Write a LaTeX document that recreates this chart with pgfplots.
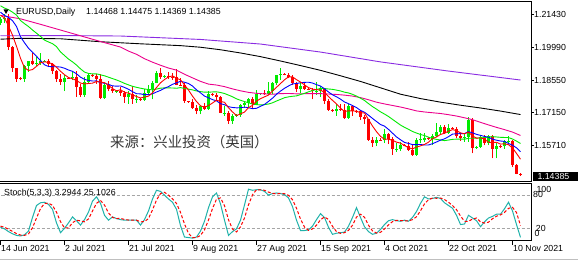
\documentclass[border=0pt]{standalone}
\usepackage{fontspec}
\setmainfont{Liberation Sans}
\newfontfamily\cjk{Noto Sans CJK SC}
\usepackage{pgfplots}
\usepackage{pgfplotstable}
\pgfplotsset{compat=1.18}

\definecolor{mtlime}{RGB}{0,235,0}
\definecolor{mtteal}{RGB}{32,178,170}
\definecolor{mtviolet}{RGB}{138,43,226}
\definecolor{mtgray}{RGB}{165,165,165}

% daily candles, bar index 0 = 14 Jun 2021 (broker has Sunday bars)
\pgfplotstableread{
i o h l c
0 1.2104 1.2132 1.2093 1.2120
1 1.2120 1.2144 1.2103 1.2126
6 1.1860 1.1922 1.1848 1.1918
7 1.1918 1.1940 1.1890 1.1940
9 1.1925 1.1955 1.1917 1.1930
10 1.1930 1.1975 1.1922 1.1937
11 1.1938 1.1942 1.1935 1.1940
16 1.1848 1.1876 1.1807 1.1865
18 1.1864 1.1895 1.1855 1.1867
21 1.1790 1.1868 1.1780 1.1845
22 1.1845 1.1880 1.1838 1.1875
26 1.1775 1.1838 1.1772 1.1835
29 1.1805 1.1810 1.1800 1.1808
32 1.1780 1.1806 1.1752 1.1795
34 1.1770 1.1790 1.1755 1.1772
36 1.1768 1.1815 1.1765 1.1800
37 1.1800 1.1835 1.1795 1.1815
38 1.1815 1.1850 1.1770 1.1843
39 1.1843 1.1895 1.1840 1.1886
41 1.1870 1.1875 1.1865 1.1872
50 1.1718 1.1745 1.1705 1.1740
52 1.1730 1.1805 1.1725 1.1795
56 1.1711 1.1740 1.1700 1.1713
58 1.1675 1.1705 1.1664 1.1700
59 1.1700 1.1705 1.1695 1.1702
60 1.1702 1.1752 1.1695 1.1745
61 1.1745 1.1765 1.1735 1.1755
62 1.1755 1.1775 1.1735 1.1770
64 1.1750 1.1810 1.1745 1.1795
65 1.1795 1.1800 1.1790 1.1798
67 1.1795 1.1845 1.1790 1.1808
68 1.1808 1.1845 1.1795 1.1840
69 1.1840 1.1875 1.1835 1.1875
70 1.1875 1.1909 1.1857 1.1880
75 1.1815 1.1845 1.1800 1.1828
79 1.1804 1.1845 1.1790 1.1806
80 1.1805 1.1830 1.1780 1.1818
84 1.1720 1.1750 1.1700 1.1728
87 1.1690 1.1750 1.1685 1.1740
94 1.1580 1.1605 1.1565 1.1595
96 1.1592 1.1640 1.1580 1.1620
99 1.1554 1.1580 1.1540 1.1556
100 1.1555 1.1585 1.1545 1.1570
104 1.1530 1.1600 1.1525 1.1595
105 1.1594 1.1625 1.1580 1.1596
106 1.1595 1.1625 1.1585 1.1600
108 1.1598 1.1620 1.1571 1.1610
109 1.1610 1.1668 1.1605 1.1630
110 1.1630 1.1660 1.1620 1.1650
112 1.1625 1.1665 1.1620 1.1645
116 1.1600 1.1620 1.1585 1.1605
117 1.1605 1.1692 1.1585 1.1680
119 1.1560 1.1565 1.1555 1.1562
120 1.1562 1.1615 1.1560 1.1605
122 1.1580 1.1615 1.1570 1.1610
124 1.1555 1.1580 1.1513 1.1567
126 1.1565 1.1595 1.1555 1.1587
127 1.1587 1.1610 1.1575 1.1590
}\upbars

\pgfplotstableread{
i o h l c
2 1.2126 1.2141 1.1985 1.1998
3 1.1998 1.2003 1.1892 1.1906
4 1.1906 1.1908 1.1847 1.1860
5 1.1862 1.1866 1.1855 1.1860
8 1.1940 1.1975 1.1921 1.1925
12 1.1940 1.1945 1.1910 1.1925
13 1.1925 1.1928 1.1881 1.1895
14 1.1895 1.1900 1.1848 1.1858
15 1.1858 1.1880 1.1835 1.1848
17 1.1865 1.1868 1.1860 1.1864
19 1.1867 1.1895 1.1782 1.1823
20 1.1823 1.1838 1.1782 1.1790
23 1.1875 1.1880 1.1870 1.1873
24 1.1873 1.1880 1.1838 1.1860
25 1.1860 1.1880 1.1772 1.1775
27 1.1835 1.1849 1.1805 1.1815
28 1.1815 1.1829 1.1800 1.1805
30 1.1808 1.1823 1.1786 1.1800
31 1.1800 1.1805 1.1755 1.1780
33 1.1795 1.1830 1.1752 1.1770
35 1.1770 1.1775 1.1765 1.1768
40 1.1886 1.1909 1.1860 1.1870
42 1.1872 1.1892 1.1860 1.1870
43 1.1870 1.1885 1.1855 1.1868
44 1.1868 1.1901 1.1832 1.1835
45 1.1835 1.1865 1.1830 1.1833
46 1.1833 1.1840 1.1754 1.1762
47 1.1762 1.1765 1.1755 1.1758
48 1.1758 1.1770 1.1730 1.1735
49 1.1735 1.1745 1.1705 1.1718
51 1.1740 1.1755 1.1725 1.1730
53 1.1795 1.1798 1.1785 1.1790
54 1.1790 1.1800 1.1765 1.1780
55 1.1780 1.1785 1.1710 1.1712
57 1.1712 1.1720 1.1665 1.1675
63 1.1770 1.1780 1.1735 1.1750
66 1.1798 1.1810 1.1790 1.1795
71 1.1880 1.1885 1.1875 1.1878
72 1.1878 1.1885 1.1862 1.1870
73 1.1870 1.1875 1.1833 1.1840
74 1.1840 1.1845 1.1802 1.1815
76 1.1828 1.1845 1.1811 1.1815
77 1.1815 1.1820 1.1810 1.1812
78 1.1812 1.1818 1.1770 1.1805
81 1.1818 1.1822 1.1750 1.1763
82 1.1763 1.1772 1.1720 1.1725
83 1.1725 1.1730 1.1715 1.1720
85 1.1728 1.1750 1.1720 1.1725
86 1.1725 1.1750 1.1685 1.1690
88 1.1740 1.1745 1.1700 1.1720
89 1.1720 1.1725 1.1712 1.1718
90 1.1718 1.1720 1.1680 1.1695
91 1.1695 1.1703 1.1665 1.1683
92 1.1683 1.1685 1.1590 1.1595
93 1.1595 1.1605 1.1563 1.1580
95 1.1595 1.1600 1.1590 1.1592
97 1.1620 1.1625 1.1575 1.1598
98 1.1598 1.1605 1.1529 1.1555
101 1.1570 1.1575 1.1565 1.1568
102 1.1568 1.1585 1.1545 1.1550
103 1.1550 1.1570 1.1524 1.1530
107 1.1600 1.1605 1.1595 1.1598
111 1.1650 1.1660 1.1620 1.1625
113 1.1645 1.1650 1.1640 1.1642
114 1.1642 1.1650 1.1600 1.1610
115 1.1610 1.1625 1.1590 1.1600
118 1.1680 1.1690 1.1535 1.1560
121 1.1605 1.1615 1.1570 1.1580
123 1.1610 1.1615 1.1513 1.1555
125 1.1567 1.1572 1.1560 1.1565
128 1.1590 1.1595 1.1475 1.1485
129 1.1485 1.1490 1.1443 1.1447
130 1.14468 1.14475 1.14369 1.14385
}\downbars

% moving averages 5, 10, 20
\pgfplotstableread{
i ma5 ma10 ma20
0 1.21372 1.21508 1.21788
1 1.21264 1.2137 1.2169
2 1.2091 1.21279 1.2162
3 1.20508 1.21139 1.2151
4 1.2002 1.20887 1.21384
5 1.1950 1.20436 1.21147
6 1.19084 1.20174 1.21009
7 1.18968 1.19939 1.20883
8 1.19006 1.19757 1.20733
9 1.19146 1.19583 1.20593
10 1.1930 1.194 1.20454
11 1.19344 1.19214 1.20292
12 1.19314 1.19141 1.2021
13 1.19254 1.1913 1.20135
14 1.1911 1.19128 1.20008
15 1.18932 1.19116 1.19776
16 1.18782 1.19063 1.19619
17 1.1866 1.18987 1.19463
18 1.18604 1.18929 1.19343
19 1.18534 1.18822 1.19203
20 1.18418 1.18675 1.19038
21 1.18378 1.1858 1.18897
22 1.1840 1.1853 1.18836
23 1.18412 1.18508 1.18819
24 1.18486 1.1851 1.18819
25 1.18456 1.18437 1.18777
26 1.18436 1.18407 1.18735
27 1.18316 1.18358 1.18673
28 1.1818 1.18296 1.18613
29 1.18076 1.18281 1.18552
30 1.18126 1.18291 1.18483
31 1.18016 1.18226 1.18403
32 1.17976 1.18146 1.18338
33 1.17906 1.18043 1.18276
34 1.1783 1.17953 1.18232
35 1.17766 1.17946 1.18192
36 1.17806 1.17911 1.18159
37 1.17846 1.17911 1.18135
38 1.17992 1.17949 1.18123
39 1.18224 1.18027 1.18154
40 1.18428 1.18097 1.18194
41 1.18572 1.18189 1.18208
42 1.18682 1.18264 1.18205
43 1.18732 1.18362 1.18203
44 1.1863 1.18427 1.1819
45 1.18556 1.18492 1.18219
46 1.18336 1.18454 1.18183
47 1.18112 1.18397 1.18154
48 1.17846 1.18289 1.18119
49 1.17612 1.18121 1.18074
50 1.17426 1.17991 1.18044
51 1.17362 1.17849 1.18019
52 1.17436 1.17774 1.18019
53 1.17546 1.17696 1.18029
54 1.1767 1.17641 1.18034
55 1.17614 1.1752 1.18006
56 1.17578 1.1747 1.17962
57 1.17338 1.17387 1.17892
58 1.17158 1.17352 1.1782
59 1.17002 1.17336 1.17729
60 1.17068 1.17341 1.17666
61 1.17154 1.17366 1.17608
62 1.17344 1.17341 1.17558
63 1.17444 1.17301 1.17499
64 1.1763 1.17316 1.17479
65 1.17736 1.17402 1.17461
66 1.17816 1.17485 1.17478
67 1.17892 1.17618 1.17503
68 1.18072 1.17758 1.17555
69 1.18232 1.17931 1.17634
70 1.18396 1.18066 1.17704
71 1.18562 1.18189 1.17778
72 1.18686 1.18289 1.17815
73 1.18686 1.18379 1.1784
74 1.18566 1.18399 1.17858
75 1.18462 1.18429 1.17916
76 1.18336 1.18449 1.17967
77 1.1822 1.18453 1.18036
78 1.1815 1.18418 1.18088
79 1.1813 1.18348 1.1814
80 1.1811 1.18286 1.18176
81 1.18006 1.18171 1.1818
82 1.17832 1.18026 1.18158
83 1.17662 1.17906 1.18143
84 1.17508 1.17819 1.18109
85 1.17322 1.17716 1.18073
86 1.17176 1.17591 1.1802
87 1.17206 1.17519 1.17986
88 1.17206 1.17434 1.17926
89 1.17186 1.17347 1.17848
90 1.17126 1.17224 1.17755
91 1.17112 1.17144 1.17658
92 1.16822 1.17014 1.1752
93 1.16542 1.16874 1.1739
94 1.16296 1.16741 1.1728
95 1.1609 1.16608 1.17162
96 1.15964 1.16538 1.17065
97 1.1597 1.16396 1.16958
98 1.1592 1.16231 1.16833
99 1.1584 1.16068 1.16708
100 1.15796 1.15943 1.16584
101 1.15692 1.15828 1.16486
102 1.15596 1.15783 1.16399
103 1.15546 1.15733 1.16304
104 1.15626 1.15733 1.16237
105 1.15676 1.15736 1.16172
106 1.1574 1.15716 1.16127
107 1.15836 1.15716 1.16056
108 1.15996 1.15771 1.16001
109 1.16066 1.15846 1.15957
110 1.16176 1.15926 1.15935
111 1.16226 1.15983 1.15906
112 1.1632 1.16078 1.15931
113 1.16384 1.1619 1.15962
114 1.16344 1.16205 1.15969
115 1.16244 1.1621 1.15973
116 1.16204 1.16215 1.15966
117 1.16274 1.16297 1.16007
118 1.1611 1.16247 1.16009
119 1.16014 1.16179 1.16013
120 1.16024 1.16134 1.1603
121 1.15974 1.16089 1.16036
122 1.15834 1.16054 1.16066
123 1.15824 1.15967 1.16079
124 1.15834 1.15924 1.16065
125 1.15754 1.15889 1.1605
126 1.15768 1.15871 1.16043
127 1.15728 1.15781 1.16039
128 1.15588 1.15706 1.15977
129 1.15348 1.15591 1.15885
130 1.15095 1.15425 1.15779
}\matab

% slower averages (50, 100, 200)
\pgfplotstableread{
i p
0 1.2137
5 1.2122
10 1.2098
15 1.2073
20 1.2048
25 1.2023
30 1.19988
32 1.19812
34 1.19672
36 1.1948
38 1.19328
40 1.19194
42 1.19072
44 1.18981
46 1.18802
48 1.18644
50 1.18491
52 1.18371
54 1.18332
56 1.18261
58 1.18163
60 1.18079
62 1.18011
64 1.17969
66 1.17945
68 1.17929
70 1.17957
72 1.17963
74 1.17947
76 1.17954
78 1.17953
80 1.17956
82 1.17939
84 1.1792
86 1.1789
88 1.1785
90 1.17782
92 1.17689
94 1.17583
96 1.17507
98 1.17439
100 1.17372
102 1.17291
104 1.17202
106 1.17156
108 1.17122
110 1.17089
112 1.17038
114 1.16979
116 1.16902
118 1.1682
120 1.16703
122 1.16591
124 1.16484
126 1.16386
128 1.16278
130 1.1613
}\mafifty

\pgfplotstableread{
i p
0 1.2033
5 1.2037
15 1.2035
25 1.2022
35 1.2013
45 1.2005
50 1.1998
55 1.1987
60 1.1973
65 1.1957
70 1.1938
75 1.1918
80 1.18972
85 1.18735
90 1.18488
95 1.1821
100 1.17931
105 1.1774
110 1.17584
115 1.1745
120 1.1733
125 1.17195
130 1.17043
}\mahundred

\pgfplotstableread{
i p
0 1.2048
15 1.2049
30 1.2047
50 1.2032
65 1.2012
80 1.1977
95 1.1934
112 1.1894
130 1.1855
}\matwohundred

% stochastic 5,3,3
\pgfplotstableread{
i k d
0 22 24
1 19 22
2 14 18.3
3 10 14.3
4 7 10.3
5 6 7.7
6 8 7
7 15 9.7
8 40 21
9 62 39
10 67 56.3
11 68 65.7
12 64 66.3
13 55 62.3
14 30 49.7
15 12 32.3
16 20 20.7
17 30 20.7
18 41 30.3
19 34 35
20 26 33.7
21 36 32
22 50 37.3
23 70 52
24 78 66
25 66 71.3
26 44 62.7
27 35 48.3
28 41 40
29 38 38
30 36 38.3
31 35 36.3
32 35 35.3
33 35 35
34 35 35
35 26 32
36 36 32.3
37 52 38
38 74 54
39 90 72
40 88 84
41 81 86.3
42 74 81
43 68 74.3
44 55 65.7
45 25 49.3
46 4 28
47 3 10.7
48 2 3
49 4 3
50 15 7
51 33 17.3
52 58 35.3
53 78 56.3
54 85 73.7
55 65 76
56 35 61.7
57 7 35.7
58 14 18.7
59 19 13.3
60 35 22.7
61 63 39
62 92 63.3
63 90 81.7
64 91 91
65 91 90.7
66 88 90
67 81 86.7
68 84 84.3
69 85 83.3
70 84 84.3
71 82 83.7
72 76 80.7
73 60 72.7
74 35 57
75 16 37
76 16 22.3
77 17 16.3
78 24 19
79 36 25.7
80 47 35.7
81 40 41
82 22 36.3
83 9 23.7
84 11 14
85 12 10.7
86 13 12
87 24 16.3
88 40 25.7
89 58 40.7
90 40 46
91 23 40.3
92 14 25.7
93 9 15.3
94 11 11.3
95 18 12.7
96 27 18.7
97 34 26.3
98 36 32.3
99 34 34.7
100 33 34.3
101 35 34
102 33 33.7
103 40 36
104 51 41.3
105 66 52.3
106 78 65
107 74 72.7
108 75 75.7
109 77 75.3
110 75 75.7
111 67 73
112 62 68
113 57 62
114 44 54.3
115 27 42.7
116 28 33
117 44 33
118 39 37
119 34 39
120 23 32
121 32 29.7
122 39 31.3
123 42 37.7
124 46 42.3
125 46 44.7
126 56 49.3
127 68 56.7
128 52 58.7
129 27 49
130 3.3 25.1
}\stoch

\begin{document}
\begin{tikzpicture}[x=1pt,y=1pt,font=\fontsize{8.8}{10}\selectfont]
\path[use as bounding box] (0,0) rectangle (578,-262);
\fill[white] (0,0) rectangle (578,-262);

% price panel
\begin{axis}[
  at={(0pt,-2pt)}, anchor=north west, scale only axis,
  width=531pt, height=179pt,
  xmin=-0.125, xmax=132.625, ymin=1.14144, ymax=1.21954,
  axis line style={draw=none},
  xtick=\empty,
  ytick={1.2143,1.1999,1.1855,1.1715,1.1571},
  yticklabels={1.21430,1.19990,1.18550,1.17150,1.15710},
  ytick pos=right, yticklabel pos=right,
  tick align=outside, major tick length=3pt,
  tick style={black, line width=0.8pt},
  yticklabel style={anchor=west, inner sep=0pt, xshift=0pt},
]
\addplot[mtlime, line width=1pt, quiver={u=0, v=\thisrow{h}-\thisrow{l}}] table[x=i, y=l] {\upbars};
\addplot[mtlime, line width=2.6pt, quiver={u=0, v=\thisrow{c}-\thisrow{o}}] table[x=i, y=o] {\upbars};
\addplot[red, line width=1pt, quiver={u=0, v=\thisrow{h}-\thisrow{l}}] table[x=i, y=l] {\downbars};
\addplot[red, line width=2.6pt, quiver={u=0, v=\thisrow{c}-\thisrow{o}}] table[x=i, y=o] {\downbars};

\addplot[mtviolet, line width=0.9pt] table[x=i, y=p] {\matwohundred};
\addplot[black, line width=0.9pt] table[x=i, y=p] {\mahundred};
\addplot[magenta, line width=0.9pt] table[x=i, y=p] {\mafifty};
\addplot[mtlime, line width=0.9pt] table[x=i, y=ma20] {\matab};
\addplot[blue, line width=0.9pt] table[x=i, y=ma10] {\matab};
\addplot[red, line width=0.9pt] table[x=i, y=ma5] {\matab};
\end{axis}

% stochastic panel
\begin{axis}[
  at={(0pt,-183pt)}, anchor=north west, scale only axis,
  width=531pt, height=57.7pt,
  xmin=-0.125, xmax=132.625, ymin=-2.76, ymax=103.4,
  axis line style={draw=none},
  ytick=\empty,
  xtick={0,16,...,128},
  xticklabels={14 Jun 2021,2 Jul 2021,21 Jul 2021,9 Aug 2021,27 Aug 2021,15 Sep 2021,4 Oct 2021,22 Oct 2021,10 Nov 2021},
  xtick pos=left, tick align=outside, major tick length=4pt,
  tick style={black, line width=0.8pt},
  xticklabel style={anchor=north west, inner sep=0pt, xshift=0.5pt},
]
\addplot[mtgray, line width=0.8pt, dash pattern=on 3pt off 2pt] coordinates {(-1,80) (134,80)};
\addplot[mtgray, line width=0.8pt, dash pattern=on 3pt off 2pt] coordinates {(-1,20) (134,20)};
\addplot[mtteal, line width=1pt] table[x=i, y=k] {\stoch};
\addplot[red, line width=1pt, dash pattern=on 3pt off 2pt] table[x=i, y=d] {\stoch};
\end{axis}

% panel frames
\draw[line width=1pt] (0,-2) -- (531,-2) -- (531,-181) -- (0,-181);
\draw[line width=1pt] (0,-183) -- (531,-183) -- (531,-240.7) -- (0,-240.7);
\draw[black!25, line width=0.8pt] (0,-259.6) -- (578,-259.6);

% header texts
\fill (3.5,-9.5) -- (8.5,-9.5) -- (6,-14) -- cycle;
\node[anchor=base west, inner sep=0pt] at (16,-15) {EURUSD,Daily};
\node[anchor=base west, inner sep=0pt] at (86,-15) {1.14468 1.14475 1.14369 1.14385};
\node[anchor=base west, inner sep=0pt] at (4,-195) {Stoch(5,3,3) 3.2944 25.1026};

% current price tag
\fill[black] (532.7,-172.2) rectangle (578,-181);
\node[anchor=base west, inner sep=0pt, text=white] at (537.3,-179.8) {1.14385};

% stochastic levels
\node[anchor=base west, inner sep=0pt] at (536.3,-192.8) {100};
\node[anchor=base west, inner sep=0pt] at (533,-197.8) {80};
\node[anchor=base west, inner sep=0pt] at (535.7,-231) {20};
\node[anchor=base west, inner sep=0pt] at (534.5,-236.2) {0};

% source watermark
\node[anchor=west, inner sep=0pt, text=black!78] at (110,-141.7) {\cjk\fontsize{14.4}{16}\selectfont 来源：兴业投资（英国）};
\end{tikzpicture}
\end{document}
